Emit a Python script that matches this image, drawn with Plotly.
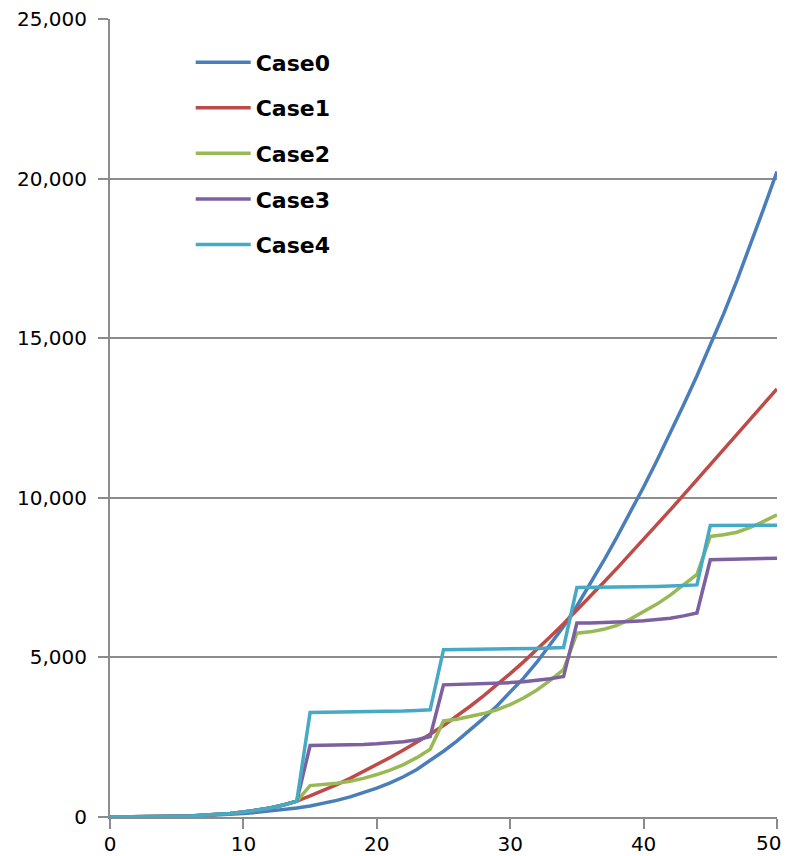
import plotly.graph_objects as go

x_values = list(range(51))

case0 = [0, 1, 3, 6, 11, 18, 28, 41, 58, 80, 110,
         145, 185, 230, 280, 345, 425, 520, 630, 760, 905,
         1070, 1260, 1490, 1760, 2060, 2380, 2720, 3090, 3480, 3900,
         4350, 4850, 5390, 5970, 6610, 7300, 8020, 8770, 9540, 10340,
         11170, 12030, 12915, 13825, 14760, 15760, 16810, 17910, 19060, 20220]

shared_start = [0, 1, 3, 7, 13, 22, 35, 52, 76, 110, 155, 210, 280, 375, 495]

case1_tail = [660, 830, 1015, 1210, 1420, 1640, 1865, 2100, 2340, 2590,
              2865, 3160, 3470, 3795, 4135, 4490, 4860, 5245, 5645, 6055,
              6475, 6905, 7345, 7790, 8240, 8695, 9155, 9620, 10090, 10560,
              11035, 11510, 11985, 12460, 12935, 13410]

case2_tail = [985, 1010, 1055, 1120, 1210, 1330, 1470, 1640, 1860, 2120,
              3010, 3060, 3140, 3240, 3360, 3520, 3730, 3980, 4280, 4620,
              5760, 5800, 5880, 6000, 6200, 6420, 6670, 6950, 7260, 7600,
              8790, 8840, 8920, 9070, 9260, 9470]

case3_tail = [2240, 2245, 2250, 2260, 2275, 2295, 2320, 2355, 2420, 2520,
              4140, 4150, 4160, 4175, 4190, 4210, 4240, 4280, 4330, 4400,
              6075, 6080, 6090, 6105, 6125, 6150, 6185, 6230, 6300, 6390,
              8060, 8065, 8070, 8080, 8095, 8110]

case4_tail = [3275, 3278, 3282, 3287, 3293, 3300, 3310, 3322, 3338, 3358,
              5240, 5242, 5246, 5250, 5255, 5262, 5270, 5280, 5293, 5310,
              7190, 7192, 7195, 7200, 7206, 7214, 7224, 7236, 7252, 7272,
              9135, 9135, 9136, 9137, 9138, 9140]

case1 = shared_start + case1_tail
case2 = shared_start + case2_tail
case3 = shared_start + case3_tail
case4 = shared_start + case4_tail

series_names = ["Case0", "Case1", "Case2", "Case3", "Case4"]
series_values = [case0, case1, case2, case3, case4]
series_colors = ["#4A7EBB", "#BE4B48", "#98B954", "#7D60A0", "#46AAC5"]

x_ticks = [0, 10, 20, 30, 40, 50]
x_tick_labels = ["0", "10", "20", "30", "40", ""]
last_x_label = "50"
y_ticks = [0, 5000, 10000, 15000, 20000, 25000]

fig = go.Figure()
for i, (name, vals, col) in enumerate(zip(series_names, series_values, series_colors)):
    fig.add_trace(go.Scatter(
        x=x_values, y=vals, mode="lines", name=name,
        legendgroup=name,
        line=dict(color=col, width=3.5),
    ))

# the last x tick label, kept inside the visible page edge
fig.add_annotation(
    x=x_ticks[-1], y=0, xref="x", yref="y",
    text=last_x_label, showarrow=False,
    xanchor="right", yanchor="middle", xshift=5, yshift=-26,
    borderpad=0,
    font=dict(family="DejaVu Sans", size=20, color="#000000"),
)

grid_col = "#8C8C8C"
fig.update_layout(
    width=784, height=848,
    margin=dict(l=102, r=15, t=11, b=39, pad=0, autoexpand=False),
    paper_bgcolor="white", plot_bgcolor="white",
    font=dict(family="DejaVu Sans", size=20, color="#000000"),
    showlegend=True,
    legend=dict(
        x=0.121, y=0.972, xanchor="left", yanchor="top",
        bgcolor="rgba(0,0,0,0)",
        font=dict(family="DejaVu Sans", size=22, color="#000000", weight="bold"),
        itemwidth=55,
        tracegroupgap=14,
    ),
    xaxis=dict(
        range=[0, 50], tickvals=x_ticks, ticktext=x_tick_labels,
        showgrid=False, zeroline=False, automargin=False,
        showline=True, linecolor=grid_col, linewidth=2,
        ticks="outside", ticklen=10, tickcolor=grid_col, tickwidth=2,
        ticklabelstandoff=-2, ticklabeloverflow="allow",
        tickfont=dict(family="DejaVu Sans", size=20, color="#000000"),
    ),
    yaxis=dict(
        range=[0, 25000], tickvals=y_ticks,
        ticktext=[f"{v:,}" for v in y_ticks],
        showgrid=True, gridcolor=grid_col, gridwidth=2,
        zeroline=False, automargin=False,
        showline=True, linecolor=grid_col, linewidth=2,
        ticks="outside", ticklen=10, tickcolor=grid_col, tickwidth=2,
        ticklabelstandoff=7, ticklabeloverflow="allow",
        tickfont=dict(family="DejaVu Sans", size=20, color="#000000"),
    ),
)

fig.write_html("out.html")
